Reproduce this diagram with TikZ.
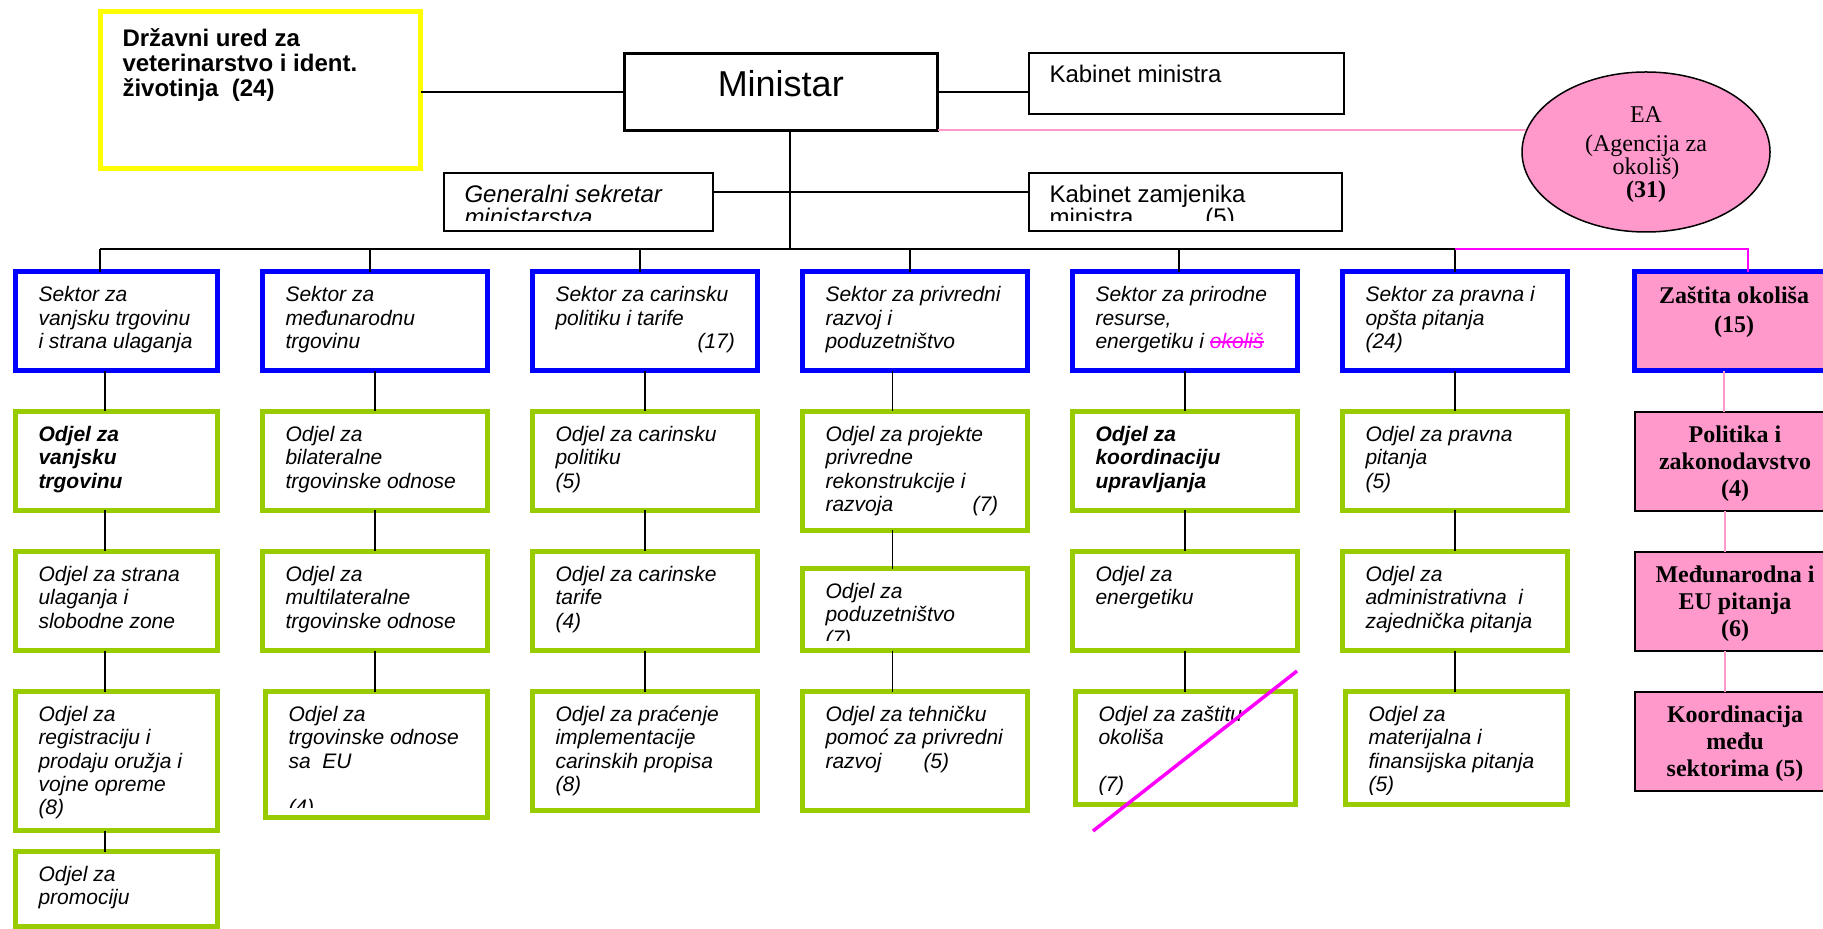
\documentclass[tikz,border=0pt]{standalone}
\usepackage{fontspec}
\setmainfont{Liberation Sans}
\newfontfamily\timesfont{Liberation Serif}
\usetikzlibrary{shapes.geometric}

\definecolor{sektorplava}{HTML}{0000FF}
\definecolor{odjelzelena}{HTML}{99CC00}
\definecolor{uredzuta}{HTML}{FFFF00}
\definecolor{roza}{HTML}{FF99CC}
\definecolor{ljubicasta}{HTML}{FF00FF}

\newcommand{\precrtaj}[1]{\setbox0\hbox{#1}\rlap{\rule[0.27em]{\wd0}{0.07em}}\box0}

\begin{document}
\begin{tikzpicture}[x=0.5pt,y=-0.5pt,
   every node/.style={inner sep=0pt,outer sep=0pt},
   txtx/.store in=\txtx, txty/.store in=\txty, txtw/.store in=\txtw,
   txtfont/.store in=\txtfont, txtalign/.store in=\txtalign,
   txtx=23, txty=30, txtw=160pt, txtalign=\raggedright,
   txtfont=\fontsize{10.5pt}{11.65pt}\selectfont\itshape,
   txt/.style={path picture={
      \clip ([shift={(-10,-10)}]path picture bounding box.south west)
         rectangle ([shift={(10,-10)}]path picture bounding box.north east);
      \node[anchor=base west] (tekst) at ([shift={(\txtx,\txty)}]path picture bounding box.north west)
         {\parbox[t]{\txtw}{\txtalign\txtfont #1}};}},
   jaki/.style={txtfont=\fontsize{10.5pt}{11.65pt}\selectfont\bfseries\itshape},
   kutija/.style={rectangle, minimum width=112.5pt, minimum height=49.5pt},
   uska/.style={minimum width=101pt},
   sektor/.style={kutija, draw=sektorplava, line width=2.5pt},
   odjel/.style={kutija, draw=odjelzelena, line width=2.5pt},
   tanka/.style={rectangle, draw, line width=1pt, txtx=20.5,
      txtfont=\fontsize{12pt}{11.5pt}\selectfont},
   rozakut/.style={rectangle, fill=roza, draw, line width=1pt,
      minimum width=100pt, minimum height=49.5pt,
      txtx=0, txty=30.5, txtw=100pt, txtalign=\centering,
      txtfont=\fontsize{12pt}{13.5pt}\selectfont\timesfont\bfseries},
   veza/.style={draw, line width=0.8pt},
   rozaveza/.style={draw=roza, line width=1pt}]

   \useasboundingbox (0,0) rectangle (1823,929);

   % vrh
   \node[draw=uredzuta, line width=2.5pt, minimum width=160pt, minimum height=78.2pt,
      txtx=22, txty=35, txtfont=\fontsize{12pt}{12.5pt}\selectfont\bfseries,
      txt={Državni ured za\\veterinarstvo i ident.\\životinja\ \ (24)}] (ured) at (260.5,90) {};
   \node[draw, line width=1.5pt, minimum width=156.75pt, minimum height=38.5pt,
      font=\fontsize{18pt}{21pt}\selectfont, text height=13pt, text depth=8pt] (ministar) at (780.75,92) {Ministar};
   \node[tanka, minimum width=157.5pt, minimum height=30.5pt, txt={Kabinet ministra}] (kabmin) at (1186.5,83.5) {};
   \node[tanka, minimum width=134.25pt, minimum height=29pt,
      txtfont=\fontsize{12pt}{11.5pt}\selectfont\itshape,
      txt={Generalni sekretar\\ministarstva}] (gensek) at (578.25,202) {};
   \node[tanka, minimum width=156.5pt, minimum height=29pt,
      txt={Kabinet zamjenika\\\makebox[78pt][l]{ministra}(5)}] (kabzam) at (1185.5,202) {};
   \node[ellipse, draw, line width=0.75pt, fill=roza, minimum width=124pt, minimum height=80pt,
      align=center, font=\timesfont\fontsize{12pt}{11.5pt}\selectfont] (ea) at (1646,152)
      {\rule{0pt}{11pt}EA\\[3pt](Agencija za\\okoliš)\\\textbf{(31)}};

   % sektori
   \node[sektor, uska, txt={Sektor za\\vanjsku trgovinu\\i strana ulaganja}] (s1) at (116.5,321.5) {};
   \node[sektor, txt={Sektor za\\međunarodnu\\trgovinu}] (s2) at (375,321.5) {};
   \node[sektor, txt={Sektor za carinsku\\politiku i tarife\\\hspace*{71pt}(17)}] (s3) at (645,321.5) {};
   \node[sektor, txt={Sektor za privredni\\razvoj i\\poduzetništvo}] (s4) at (915,321.5) {};
   \node[sektor, txt={Sektor za prirodne\\resurse,\\energetiku i \textcolor{ljubicasta}{\precrtaj{okoliš}}}] (s5) at (1185,321.5) {};
   \node[sektor, txt={Sektor za pravna i\\opšta pitanja\\(24)}] (s6) at (1455,321.5) {};
   \node[rozakut, draw=sektorplava, line width=2.5pt, txty=31.5,
      txtfont=\fontsize{12pt}{14.5pt}\selectfont\timesfont\bfseries,
      txt={Zaštita okoliša\\(15)}] (zastita) at (1734,321.5) {};

   % odjeli
   \node[odjel, uska, jaki, txt={Odjel za\\vanjsku\\trgovinu}] (o1a) at (116.5,461) {};
   \node[odjel, uska, txt={Odjel za strana\\ulaganja i\\slobodne zone}] (o1b) at (116.5,601) {};
   \node[odjel, uska, minimum height=69.5pt,
      txt={Odjel za\\registraciju i\\prodaju oružja i\\vojne opreme\\(8)}] (o1c) at (116.5,761) {};
   \node[odjel, uska, minimum height=37.5pt, txt={Odjel za\\promociju}] (o1d) at (116.5,889) {};

   \node[odjel, txt={Odjel za\\bilateralne\\trgovinske odnose}] (o2a) at (375,461) {};
   \node[odjel, txt={Odjel za\\multilateralne\\trgovinske odnose}] (o2b) at (375,601) {};
   \node[odjel, minimum width=111pt, minimum height=63pt,
      txt={Odjel za\\trgovinske odnose\\sa\ \ EU\\[11.65pt](4)}] (o2c) at (376.5,754.5) {};

   \node[odjel, txt={Odjel za carinsku\\politiku\\(5)}] (o3a) at (645,461) {};
   \node[odjel, txt={Odjel za carinske\\tarife\\(4)}] (o3b) at (645,601) {};
   \node[odjel, minimum height=59.5pt,
      txt={Odjel za praćenje\\implementacije\\carinskih propisa\\(8)}] (o3c) at (645,751) {};

   \node[odjel, minimum height=59.5pt,
      txt={Odjel za projekte\\privredne\\rekonstrukcije i\\\makebox[73.5pt][l]{razvoja}(7)}] (o4a) at (915,471) {};
   \node[odjel, minimum height=41pt, txt={Odjel za\\poduzetništvo\\(7)}] (o4b) at (915,609.5) {};
   \node[odjel, minimum height=59.5pt,
      txt={Odjel za tehničku\\pomoć za privredni\\\makebox[49pt][l]{razvoj}(5)}] (o4c) at (915,751) {};

   \node[odjel, jaki, txt={Odjel za\\koordinaciju\\upravljanja}] (o5a) at (1185,461) {};
   \node[odjel, txt={Odjel za\\energetiku}] (o5b) at (1185,601) {};
   \node[odjel, minimum width=110pt, minimum height=56.5pt,
      txt={Odjel za zaštitu\\okoliša\\[11.65pt](7)}] (o5c) at (1185.5,748) {};

   \node[odjel, txt={Odjel za pravna\\pitanja\\(5)}] (o6a) at (1455,461) {};
   \node[odjel, txt={Odjel za\\administrativna\ \ i\\zajednička pitanja}] (o6b) at (1455,601) {};
   \node[odjel, minimum width=111pt, minimum height=56.5pt,
      txt={Odjel za\\materijalna i\\finansijska pitanja\\(5)}] (o6c) at (1456.5,748) {};

   \node[rozakut, txt={Politika i\\zakonodavstvo\\(4)}] (politika) at (1735,461.5) {};
   \node[rozakut, txt={Međunarodna i\\EU pitanja\\(6)}] (medjunarodna) at (1735,601.5) {};
   \node[rozakut, txt={Koordinacija\\među\\sektorima (5)}] (koordinacija) at (1735,741.5) {};

   % veze
   \coordinate (sabirnica) at (790,249);
   \draw[veza] (ministar.west) -- (ministar.west -| ured.east);
   \draw[veza] (ministar.east) -- (ministar.east -| kabmin.west);
   \draw[veza] ([yshift=5pt]gensek.east) -- ([yshift=5pt]gensek.east -| kabzam.west);
   \draw[rozaveza] (ministar.south east) -- (ministar.south east -| ea.170);
   \draw[veza] ([xshift=4.625pt]ministar.south) -- ([xshift=4.625pt]ministar.south |- sabirnica);
   \draw[veza] ([xshift=-8.25pt]s1.north |- sabirnica) -- (s6.north |- sabirnica);
   \foreach \s/\d in {s1/-8.25pt, s2/-2.5pt, s3/-2.5pt, s4/-2.5pt, s5/-3pt, s6/0pt}
      \draw[veza] ([xshift=\d]\s.north) -- ([xshift=\d]\s.north |- sabirnica);
   \draw[ljubicasta, line width=1pt] (s6.north |- sabirnica) -| ([xshift=6.75pt]zastita.north);

   \foreach \a/\b/\d in {s1/o1a/-5.75pt, o1a/o1b/-5.75pt, o1b/o1c/-5.75pt, o1c/o1d/-5.75pt,
         s2/o2a/0pt, o2a/o2b/0pt, o2b/o2c/0pt,
         s3/o3a/0pt, o3a/o3b/0pt, o3b/o3c/0pt,
         s4/o4a/-11.25pt, o4a/o4b/-11.25pt, o4b/o4c/-11.25pt,
         s5/o5a/0pt, o5a/o5b/0pt, o5b/o5c/0pt,
         s6/o6a/0pt, o6a/o6b/0pt, o6b/o6c/0pt}
      \draw[veza] ([xshift=\d]\a.south) -- ([xshift=\d]\a.south |- \b.north);
   \foreach \a/\b in {zastita/politika, politika/medjunarodna, medjunarodna/koordinacija}
      \draw[rozaveza] ([xshift=-5.25pt]\a.south) -- ([xshift=-5.25pt]\a.south |- \b.north);

   % precrtano
   \draw[ljubicasta, line width=1.75pt] (1093,831) -- (1297,671);
\end{tikzpicture}
\end{document}
